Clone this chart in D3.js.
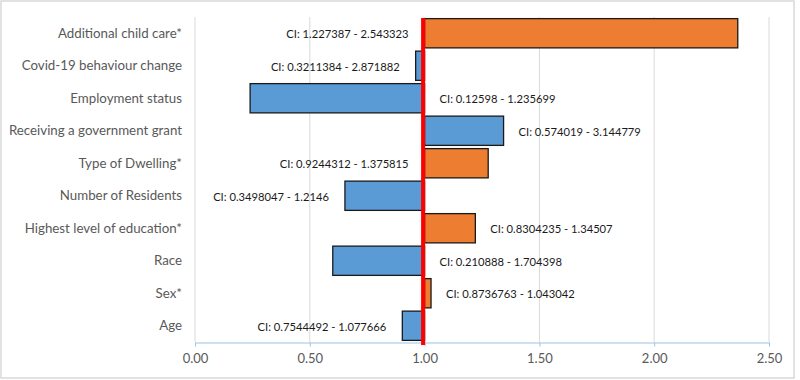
<!DOCTYPE html>
<html><head><meta charset="utf-8">
<script src="https://cdn.jsdelivr.net/npm/d3@7"></script>
<style>body{margin:0;background:#fff}svg{display:block}</style>
</head><body>
<svg id="c" width="800" height="380"></svg>
<script>
const categories = ["Additional child care*","Covid-19 behaviour change","Employment status","Receiving a government grant","Type of Dwelling*","Number of Residents","Highest level of education*","Race","Sex*","Age"];
const oddsRatios = [2.364, 0.961, 0.24, 1.344, 1.277, 0.653, 1.221, 0.60, 1.028, 0.903];
const ciLabels = ["CI: 1.227387 - 2.543323","CI: 0.3211384 - 2.871882","CI: 0.12598 - 1.235699","CI: 0.574019 - 3.144779","CI: 0.9244312 - 1.375815","CI: 0.3498047 - 1.2146","CI: 0.8304235 - 1.34507","CI: 0.210888 - 1.704398","CI: 0.8736763 - 1.043042","CI: 0.7544492 - 1.077666"];
const significant = [true,false,false,false,true,false,true,false,true,false];
const labelSide = ["left","left","right","right","left","left","right","right","right","left"];
const xTicks = [0,0.5,1,1.5,2,2.5];
const reference = 1;

const svg = d3.select("#c");
const font = "Lato, 'Open Sans', sans-serif";
svg.append("rect").attr("x",1).attr("y",1).attr("width",793).attr("height",377)
  .attr("fill","#fff").attr("stroke","#d9d9d9").attr("stroke-width",1.5);

const x = d3.scaleLinear().domain([0,2.5]).range([195,769]);
const y = d3.scaleBand().domain(categories).range([17,342]).paddingInner(0.1).paddingOuter(0.05);

// gridlines
svg.append("g").selectAll("line").data(xTicks.slice(1)).join("line")
  .attr("x1",d=>x(d)).attr("x2",d=>x(d)).attr("y1",17).attr("y2",342)
  .attr("stroke","#d9d9d9").attr("stroke-width",1);
// vertical axis line
svg.append("line").attr("x1",x(0)).attr("x2",x(0)).attr("y1",17).attr("y2",342)
  .attr("stroke","#d9d9d9").attr("stroke-width",1);

// x axis
const xa = svg.append("g").attr("transform","translate(0,342.5)")
  .call(d3.axisBottom(x).tickValues(xTicks).tickFormat(d3.format(".2f")).tickSize(4).tickSizeOuter(0));
xa.select(".domain").attr("stroke","#9dc3e6").attr("stroke-width",1.2);
xa.selectAll(".tick line").attr("stroke","#9dc3e6");
xa.selectAll(".tick text").attr("fill","#595959").attr("font-size",13).attr("font-family",font).attr("dy","1.05em");

// bars
svg.append("g").selectAll("rect").data(categories).join("rect")
  .attr("x",(d,i)=>x(Math.min(oddsRatios[i],reference)))
  .attr("width",(d,i)=>Math.abs(x(oddsRatios[i])-x(reference)))
  .attr("y",d=>y(d)).attr("height",y.bandwidth())
  .attr("fill",(d,i)=>significant[i]?"#ed7d31":"#5b9bd5")
  .attr("stroke","#1a1a1a").attr("stroke-width",1.3);

// category labels
svg.append("g").selectAll("text").data(categories).join("text")
  .attr("x",182).attr("y",d=>y(d)+y.bandwidth()/2).attr("dy","0.35em")
  .attr("text-anchor","end").attr("fill","#595959").attr("font-size",13.3).attr("font-family",font)
  .text(d=>d);

// CI labels
svg.append("g").selectAll("text").data(categories).join("text")
  .attr("x",(d,i)=>labelSide[i]==="left" ? x(Math.min(oddsRatios[i],reference))-16 : x(Math.max(oddsRatios[i],reference))+15)
  .attr("y",d=>y(d)+y.bandwidth()/2+1).attr("dy","0.35em")
  .attr("text-anchor",(d,i)=>labelSide[i]==="left"?"end":"start")
  .attr("fill","#1a1a1a").attr("font-size",11.2).attr("font-family",font)
  .text((d,i)=>ciLabels[i]);

// reference line
svg.append("line").attr("x1",x(reference)-1.5).attr("x2",x(reference)-1.5).attr("y1",18).attr("y2",345)
  .attr("stroke","#ff0000").attr("stroke-width",4);
</script>
</body></html>
